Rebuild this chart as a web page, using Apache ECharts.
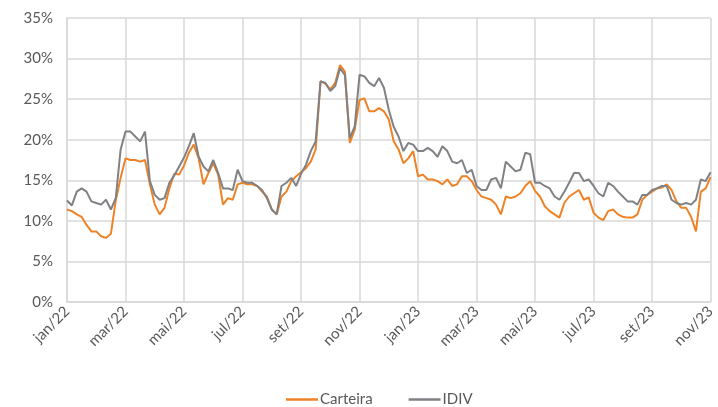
<!DOCTYPE html>
<html>
<head>
<meta charset="utf-8">
<script src="https://cdn.jsdelivr.net/npm/echarts@6/dist/echarts.min.js"></script>
<style>
html,body{margin:0;padding:0;background:#fff;}
#chart{width:718px;height:407px;}
</style>
</head>
<body>
<div id="chart"></div>
<script>
// Month labels (first day of each month), 6 samples per month
const months = ['jan/22','fev/22','mar/22','abr/22','mai/22','jun/22','jul/22','ago/22','set/22','out/22','nov/22','dez/22',
                'jan/23','fev/23','mar/23','abr/23','mai/23','jun/23','jul/23','ago/23','set/23','out/23','nov/23'];
const samplesPerMonth = 6;
const yTicks = [0, 5, 10, 15, 20, 25, 30, 35];

const carteira = [
 11.4,11.2,10.8,10.5,9.5,8.7, 8.7,8.1,7.9,8.4,12.5,15.3,
 17.7,17.5,17.5,17.3,17.5,14.5, 12.0,10.8,11.6,14.0,15.8,15.7,
 16.8,18.4,19.4,17.7,14.5,15.9, 17.1,15.7,12.0,12.8,12.6,14.5,
 14.7,14.5,14.5,14.3,13.6,13.0, 11.4,10.8,13.0,13.6,14.9,15.5,
 16.0,16.5,17.3,18.8,27.2,26.9, 26.2,27.0,29.2,28.4,19.6,21.2,
 24.9,25.1,23.5,23.5,23.9,23.5, 22.5,19.8,18.8,17.1,17.7,18.6,
 15.5,15.7,15.1,15.1,14.9,14.5, 15.1,14.3,14.5,15.5,15.5,14.9,
 13.8,13.0,12.8,12.6,12.0,10.8, 13.0,12.8,13.0,13.4,14.3,14.9,
 13.7,13.0,11.8,11.2,10.8,10.4, 12.2,13.0,13.4,13.8,12.6,12.9,
 11.0,10.4,10.1,11.2,11.4,10.8, 10.5,10.4,10.4,10.8,12.6,13.2,
 13.6,14.0,14.1,14.5,13.8,12.4, 11.6,11.6,10.5,8.7,13.6,14.0,
 15.4
];
const idiv = [
 12.5,11.9,13.6,14.0,13.6,12.4, 12.2,12.0,12.6,11.4,12.8,18.8,
 21.0,21.0,20.4,19.8,21.0,14.9, 13.2,12.6,12.8,14.7,15.6,16.7,
 17.8,19.2,20.8,17.9,16.7,16.1, 17.5,15.9,14.0,14.0,13.8,16.3,
 14.9,14.7,14.7,14.3,13.8,12.8, 11.4,10.8,14.3,14.7,15.3,14.3,
 15.8,16.9,18.6,19.8,27.2,27.0, 26.0,26.6,28.8,28.0,20.2,21.6,
 28.0,27.8,27.0,26.6,27.6,26.4, 23.7,21.6,20.4,18.6,19.6,19.4,
 18.6,18.6,19.0,18.6,17.9,19.2, 18.6,17.3,17.1,17.5,15.9,16.3,
 14.3,13.8,13.8,15.1,15.3,14.0, 17.3,16.7,16.1,16.3,18.4,18.2,
 14.7,14.7,14.3,14.0,13.0,12.6, 13.6,14.7,15.9,15.9,14.9,15.1,
 14.3,13.4,13.0,14.7,14.3,13.6, 13.0,12.4,12.4,12.0,13.2,13.2,
 13.8,14.0,14.3,14.3,12.6,12.2, 12.0,12.2,12.0,12.6,15.1,14.9,
 16.0
];

const categories = [];
months.forEach((m, mi) => {
  const n = (mi === months.length - 1) ? 1 : samplesPerMonth;
  for (let k = 0; k < n; k++) categories.push(m + ' ' + (k + 1));
});

const isMajor = (idx) => idx % (2 * samplesPerMonth) === 0;
const txt = '#595959';
const font = 'Lato, "Open Sans", sans-serif';
const orange = '#EE8226';
const gray = '#7F8184';

const chart = echarts.init(document.getElementById('chart'), null, {renderer: 'canvas'});
chart.setOption({
  animation: false,
  backgroundColor: '#ffffff',
  textStyle: {fontFamily: font},
  grid: {left: 67, right: 6, top: 18, bottom: 105, containLabel: false},
  legend: {
    left: 281, top: 387,
    icon: 'rect',
    itemWidth: 32, itemHeight: 2.5, itemGap: 36,
    textStyle: {color: txt, fontSize: 15, fontFamily: font, padding: [0, 0, 0, -3]},
    data: ['Carteira', 'IDIV']
  },
  xAxis: {
    type: 'category',
    data: categories,
    boundaryGap: false,
    axisLine: {show: true, lineStyle: {color: '#D9D9D9', width: 1.5}},
    axisTick: {show: false},
    axisLabel: {
      interval: (idx) => isMajor(idx),
      rotate: 45, margin: 7,
      color: txt, fontSize: 15, fontFamily: font,
      formatter: (v) => v.split(' ')[0]
    },
    splitLine: {show: true, interval: (idx) => isMajor(idx), lineStyle: {color: '#D9D9D9', width: 1.5}}
  },
  yAxis: {
    type: 'value',
    min: yTicks[0], max: yTicks[yTicks.length - 1], interval: 5,
    axisLine: {show: true, lineStyle: {color: '#D9D9D9', width: 1.5}},
    axisTick: {show: false},
    axisLabel: {color: txt, fontSize: 15, fontFamily: font, margin: 14, formatter: '{value}%'},
    splitLine: {show: true, lineStyle: {color: '#D9D9D9', width: 1.5}}
  },
  series: [
    {name: 'Carteira', type: 'line', data: carteira, symbol: 'none', showSymbol: false,
     lineStyle: {color: orange, width: 2}, itemStyle: {color: orange}},
    {name: 'IDIV', type: 'line', data: idiv, symbol: 'none', showSymbol: false,
     lineStyle: {color: gray, width: 2}, itemStyle: {color: gray}}
  ]
});
</script>
</body>
</html>
